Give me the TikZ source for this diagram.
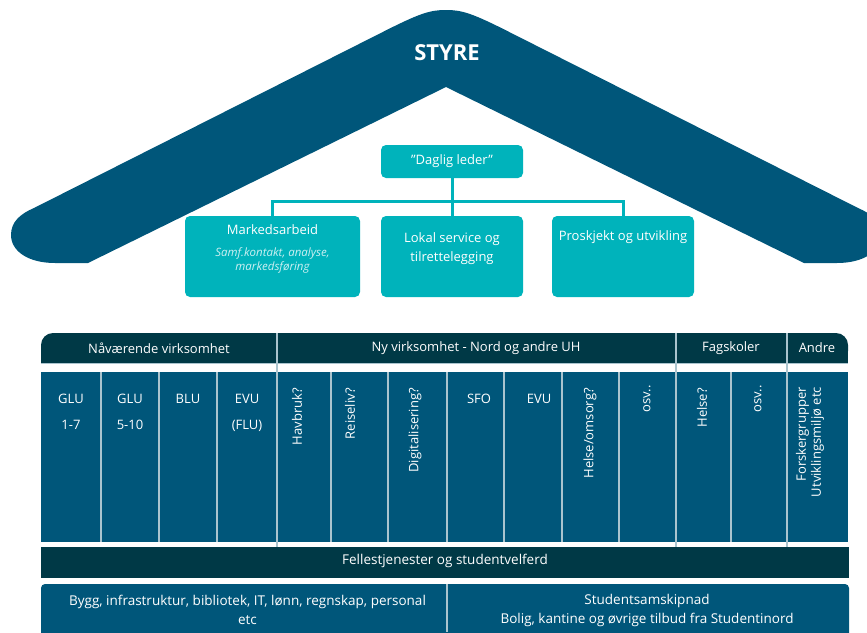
\documentclass[tikz,border=0pt]{standalone}
\usepackage{fontspec}
\setmainfont{Open Sans}
\usepackage{tikz}
\definecolor{roofblue}{RGB}{0,86,122}
\definecolor{headdark}{RGB}{0,57,70}
\definecolor{boxteal}{RGB}{0,179,187}
\definecolor{seplight}{RGB}{170,196,206}
\definecolor{subteal}{RGB}{205,240,242}

\begin{document}
\begin{tikzpicture}[x=1pt,y=-1pt,
	tbox/.style={fill=boxteal,rounded corners=5pt,inner sep=0pt},
	conn/.style={boxteal,line width=3pt},
	wtext/.style={text=white,font=\fontsize{13}{19}\selectfont,inner sep=0pt,align=center},
	vtext/.style={wtext,rotate=90,anchor=east,align=right},
	sep/.style={seplight,line width=1.5pt}]
	\useasboundingbox (0,0) rectangle (867,632);
	\fill[roofblue] (88,263) -- (55,263) .. controls (28,263) and (11,251) .. (11,235) .. controls (11,222) and (20,214) .. (34,208) -- (380,33.4) .. controls (420,13) and (430,10) .. (446,10) .. controls (462,10) and (472,13) .. (512,33.4) -- (858,208) .. controls (872,214) and (881,222) .. (881,235) .. controls (881,251) and (864,263) .. (837,263) -- (804,263) -- (446,87) -- cycle;
	\node[text=white,inner sep=0pt,font=\bfseries\fontsize{22}{22}\selectfont] (styre) at (447,53) {STYRE};
	\node[tbox,wtext,minimum width=142pt,minimum height=33pt] (leder) at (452,161.5) {”Daglig leder”};
	\node[tbox,minimum width=175pt,minimum height=81pt] (marked) at (272.5,256.5) {};
	\node[tbox,minimum width=142pt,minimum height=81pt] (lokal) at (452,256.5) {};
	\node[tbox,minimum width=142pt,minimum height=81pt] (prosjekt) at (623,256.5) {};
	\coordinate (split) at (452,201);
	\draw[conn] (leder.south) -- (split);
	\draw[conn] (split) -| (marked.north);
	\draw[conn] (split) -- (lokal.north);
	\draw[conn] (split) -| (prosjekt.north);
	\node[wtext] (markedtxt) at (272.5,230) {Markedsarbeid};
	\node[wtext,text=subteal,font=\itshape\fontsize{11.5}{14}\selectfont] (markedsub) at (272.5,260) {Samf.kontakt, analyse,\\markedsføring};
	\node[wtext] (lokaltxt) at (452,248.5) {Lokal service og\\tilrettelegging};
	\node[wtext] (prosjekttxt) at (623,237) {Proskjekt og utvikling};

	\fill[headdark,rounded corners=12pt] (41,333) rectangle (848,363);
	\fill[headdark] (41,350) rectangle (848,363);
	\draw[seplight,line width=1pt] (41,363.5) -- (848,363.5);
	\fill[roofblue] (41,372) rectangle (848,542);
	\foreach \x in {101,159,217,331,388,447,504,562,619,731}
		\draw[sep] (\x,372) -- (\x,542);
	\foreach \x in {277,676,787}
		\draw[sep] (\x,333) -- (\x,547);
	\fill[headdark] (41,547) rectangle (849,578);
	\fill[roofblue,rounded corners=4pt] (41,584) rectangle (849,638);
	\draw[sep] (447,584) -- (447,632);

	\node[wtext] (naa) at (159,348) {Nåværende virksomhet};
	\node[wtext] (ny) at (476,348) {Ny virksomhet - Nord og andre UH};
	\node[wtext] (fag) at (731,348) {Fagskoler};
	\node[wtext] (andre) at (817,348) {Andre};
	\foreach \x/\a/\b in {71/GLU/1-7,130/GLU/5-10,188/BLU/,247/EVU/(FLU),479/SFO/,539/EVU/}{
		\node[wtext,anchor=base] (top\x) at (\x,403) {\a};
		\node[wtext,anchor=base] (bot\x) at (\x,429) {\b};
	}
	\node[vtext] (havbruk) at (297,388) {Havbruk?};
	\node[vtext] (reiseliv) at (350,388) {Reiseliv?};
	\node[vtext] (digital) at (415,388) {Digitalisering?};
	\node[vtext] (omsorg) at (590,388) {Helse/omsorg?};
	\node[vtext] (osvny) at (647,385) {osv..};
	\node[vtext] (helse) at (702,388) {Helse?};
	\node[vtext] (osvfag) at (758,385) {osv..};
	\node[vtext,font=\fontsize{13}{15}\selectfont] (forsker) at (810,387) {Forskergrupper\\Utviklingsmiljø etc};

	\node[wtext,font=\fontsize{13.5}{19}\selectfont] (felles) at (445,561) {Fellestjenester og studentvelferd};
	\node[wtext,font=\fontsize{13.5}{19}\selectfont] (bygg) at (247.5,610) {Bygg, infrastruktur, bibliotek, IT, lønn, regnskap, personal\\etc};
	\node[wtext,font=\fontsize{13.5}{19}\selectfont] (samskip) at (647,610) {Studentsamskipnad\\Bolig, kantine og øvrige tilbud fra Studentinord};
\end{tikzpicture}
\end{document}
